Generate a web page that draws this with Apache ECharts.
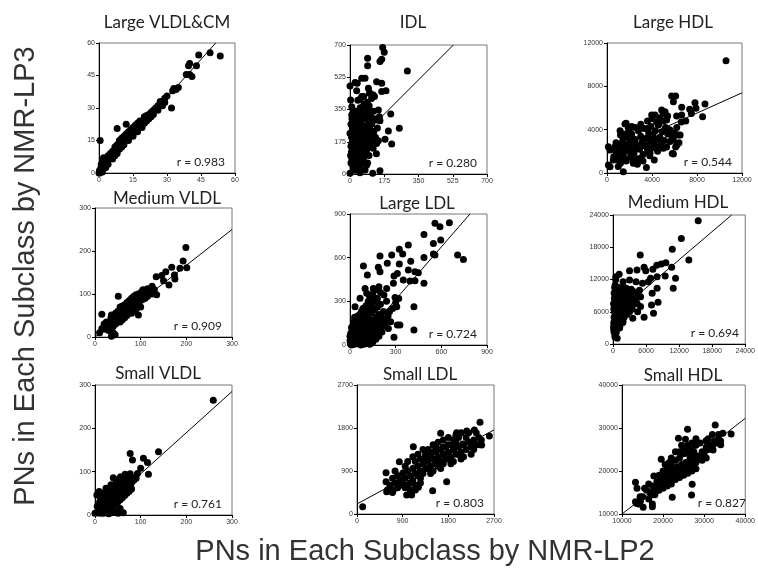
<!DOCTYPE html>
<html>
<head>
<meta charset="utf-8">
<script src="https://cdn.jsdelivr.net/npm/echarts@6/dist/echarts.min.js"></script>
</head>
<body style="margin:0;background:#fff">
<div id="main" style="width:758px;height:568px;"></div>
<script type="text/javascript">
// panel titles and correlation labels
var titles = ['Large VLDL&CM', 'IDL', 'Large HDL', 'Medium VLDL', 'Large LDL', 'Medium HDL', 'Small VLDL', 'Small LDL', 'Small HDL'];
var rValues = ['0.983', '0.280', '0.544', '0.909', '0.724', '0.694', '0.761', '0.803', '0.827'];

// axis ranges (same on x and y for each panel)
var axMin = [0, 0, 0, 0, 0, 0, 0, 0, 10000];
var axMax = [60, 700, 12000, 300, 900, 24000, 300, 2700, 40000];
var axStep = [15, 175, 4000, 100, 300, 6000, 100, 900, 10000];

// regression line end points
var fitLines = [
    [[0, 0], [51.5, 60]],
    [[20, 160], [528, 700]],
    [[0, 1800], [12000, 7400]],
    [[0, 0], [300, 250]],
    [[40, 0], [788, 900]],
    [[0, 5200], [21530, 24000]],
    [[0, 0], [300, 285]],
    [[0, 210], [2700, 1760]],
    [[10000, 10000], [40000, 32250]]
];

var p1 = [[0.5,15],[8,20.5],[12,22.5],[32,30],[44,54.5],[49,55.5],[53.5,54],[40,50.5],[39.5,49.5],[43,49.5],[38.5,45.5],[40,45.5],[41,44.5],[35,39.5],[33,39],[34,38.5],[32.5,38],[30,35.5],[29,34.5],[28,33],[27,33],[29,32.5],[25,30],[24,29],[23,28],[22,27],[21,26.5],[20,26],[22,25],[19,24],[18,24],[17,23],[18,22],[16,22],[15,21],[16,20.5],[14,20],[13,19],[14,18],[12,18],[11,17],[12,16],[10,16],[11,15],[9,15],[10,14],[9,13],[8,13],[7,12],[8,11],[7,10],[6,10],[6,9],[5,9],[5,8],[4,8],[5,7],[4,7],[3,6],[4,6],[3,5],[2,6],[2,5],[3,4],[2,4],[1.5,3],[1,3],[2,2],[1,2],[0.5,1.5],[1,1],[0.5,0.5],[0.3,0],[0.2,1],[1.5,0.5],[0,0],[6,6.5],[7,8],[9,11],[10,12],[13,15],[15,17],[17,19],[19,21],[20,23],[23,26],[26,29],[26,31],[4,4],[3,2.5],[1,4],[2,7],[8,9],[11,13],[13,16],[15,18],[17,20],[21,24],[24,27],[28,31]];

var p2 = [[167,686],[175,660],[153,610],[162,622],[90,628],[90,588],[293,559],[60,519],[77,519],[0,478],[26,496],[37,492],[136,501],[162,492],[184,452],[162,447],[34,452],[94,465],[102,438],[60,420],[3,402],[51,405],[119,429],[9,365],[68,365],[145,347],[208,326],[9,320],[34,293],[77,302],[136,293],[153,289],[252,248],[196,233],[0,221],[26,230],[43,185],[9,166],[68,148],[85,130],[136,166],[213,163],[179,188],[9,112],[34,76],[60,67],[85,49],[0,4],[51,7],[116,4],[153,18],[17,31],[77,22],
    [5,60],[10,80],[15,45],[20,95],[25,120],[30,70],[35,150],[40,100],[45,180],[50,130],[55,200],[60,160],[65,240],[70,190],[75,260],[80,210],[85,300],[90,230],[95,280],[100,250],[105,320],[110,270],[115,200],[120,340],[125,300],[5,150],[8,200],[12,250],[18,280],[22,310],[28,340],[32,230],[38,270],[42,300],[48,330],[52,360],[58,290],[62,320],[68,350],[72,380],[78,330],[82,360],[88,390],[92,340],[98,370],[102,300],[108,210],[112,170],[118,140],[122,230],[5,270],[10,300],[15,330],[20,200],[25,170],[30,130],[35,60],[40,30],[45,80],[50,40],[55,100],[60,60],[65,120],[70,90],[75,140],[80,110],[85,170],[90,60],[95,200],[100,150],[3,100],[7,120],[13,180],[17,220],[23,240],[27,20],[33,190],[37,210],[43,250],[47,220],[53,270],[57,240],[63,190],[67,210],[73,230],[77,170],[83,250],[87,200],[93,160],[97,100],[140,250],[150,310],[130,200],[135,110],[145,180],[125,420],[110,410],[100,440],[70,420],[40,400]];

var p3 = [[10580,10370],[5750,7110],[6100,7110],[5900,6580],[7820,6490],[8710,6370],[7910,5970],[6640,6060],[7350,5880],[8500,5200],[4860,5820],[5160,5660],[3970,5350],[4270,5350],[5390,5260],[6190,5260],[6640,5350],[5300,4890],[4560,4430],[3670,4120],[2790,3970],[1900,4120],[1600,4520],[1160,3910],[5600,3970],[6340,3510],[5900,3050],[4860,3050],[3970,3350],[3230,3050],[2340,3050],[1450,2740],[710,2430],[120,2430],[270,2120],[1010,1820],[1600,1350],[560,1200],[120,740],[270,580],[1450,120],[2340,890],[2930,1350],[3820,1820],[5010,2280],[5900,1750],[6220,2580],[2040,1970],[2640,2280],[3530,2430],[4410,2430],[1160,1510],[2040,2430],
    [600,1500],[800,2000],[900,1200],[1000,2600],[1100,1700],[1200,900],[1300,2200],[1400,3000],[1500,1900],[1600,2500],[1700,1100],[1800,3300],[1900,2100],[2000,2800],[2100,1500],[2200,3600],[2300,2300],[2400,1800],[2500,3100],[2600,2600],[2700,1300],[2800,3900],[2900,2200],[3000,3400],[3100,2800],[3200,1700],[3300,4100],[3400,2500],[3500,3200],[3600,2000],[3700,3700],[3800,2900],[3900,4300],[4000,2300],[4100,3500],[4200,2700],[4300,3900],[4400,3100],[4500,2000],[4600,4500],[4700,3300],[4800,2600],[4900,3800],[5000,4800],[5100,3000],[5200,4200],[5300,2400],[5400,3600],[5500,4000],[5600,2900],[5800,3300],[6000,3700],[6200,4200],[6400,2800],[6600,4700],[5000,5500],[4700,5100],[4400,4700],[2500,4200],[2000,3800],[1200,3500],[800,2800],[1500,3600],[2300,1100],[3200,1100],[3800,1600],[4200,1200],[1000,600],[2700,800],[3500,500],[5800,1800],[6100,2400],[6500,3500],[7000,4800],[7500,5500],[3000,4500],[3600,4800],[2200,4300],[1700,4600],[4000,5000]];

var p4 = [[199,208],[193,177],[201,161],[186,160],[168,162],[155,152],[146,143],[134,140],[174,144],[175,135],[162,121],[150,131],[51,95],[15,53],[36,51],[135,98],[120,109],[113,105],[95,51],[36,2],[44,5],[40,10],
    [20,18],[25,22],[28,30],[30,25],[32,35],[35,28],[38,40],[40,32],[42,45],[45,38],[48,50],[50,42],[52,55],[55,46],[58,60],[60,50],[62,65],[65,55],[68,70],[70,58],[72,75],[75,62],[78,80],[80,66],[82,85],[85,70],[88,90],[90,75],[92,95],[95,80],[98,100],[100,85],[102,105],[105,88],[108,92],[110,100],[115,95],[120,105],[125,100],[130,110],[45,55],[55,70],[65,75],[75,85],[85,95],[95,100],[60,40],[70,50],[80,55],[90,65],[100,70],[50,35],[40,25],[30,15],[35,20],[45,30],[55,35],[65,45],[75,70],[85,60],[25,35],[35,45],[50,60],[60,72],[70,80],[80,90],[90,98],[105,110],[115,112],[125,118],[40,48],[20,30],[15,20],[10,10],[58,52],[68,62],[78,72],[88,82],[98,92],[110,90]];

var p5 = [[558,836],[591,813],[653,840],[548,698],[596,721],[486,760],[383,687],[324,657],[346,625],[274,618],[197,611],[186,534],[197,504],[88,543],[114,481],[245,561],[324,556],[311,492],[383,515],[427,504],[449,497],[399,575],[548,625],[486,602],[558,618],[707,618],[745,588],[486,424],[427,442],[394,440],[350,447],[289,474],[285,424],[241,389],[223,343],[153,389],[110,355],[99,389],[66,321],[33,263],[164,321],[296,327],[307,263],[420,263],[267,160],[311,137],[328,137],[420,103],[289,53],[131,172],[208,190],[186,126],[252,114],
    [5,5],[10,20],[15,40],[20,10],[25,60],[30,30],[35,80],[40,15],[45,50],[50,100],[55,25],[60,70],[65,120],[70,40],[75,90],[80,150],[85,60],[90,110],[95,20],[100,180],[105,80],[110,130],[115,50],[120,200],[125,100],[130,150],[135,30],[140,220],[145,120],[150,170],[155,70],[160,240],[165,140],[170,190],[175,90],[180,260],[185,160],[190,210],[195,110],[200,280],[210,180],[220,230],[230,130],[240,300],[250,200],[5,40],[10,70],[15,100],[20,130],[25,160],[30,190],[35,140],[40,110],[45,170],[50,200],[55,150],[60,180],[65,210],[70,160],[75,230],[80,200],[85,250],[90,170],[95,140],[100,220],[105,270],[110,240],[115,190],[120,300],[125,260],[130,330],[140,280],[150,350],[160,300],[170,380],[180,320],[190,400],[200,360],[5,80],[10,120],[0,30],[0,60],[5,15],[10,0],[20,35],[30,5],[40,45],[50,10],[60,30],[70,0],[80,20],[90,5],[100,30],[110,10],[120,40],[130,5],[140,60],[150,20],[160,90],[170,40],[180,110],[190,60],[210,90],[220,140],[240,170],[260,230],[280,250],[300,290],[320,320]];

var p6 = [[15460,22940],[12400,19650],[13760,15620],[10760,17610],[4940,16550],[9590,15130],[8760,14880],[7940,14630],[10640,14260],[5640,14260],[5940,13640],[7230,13890],[4350,13760],[3000,13640],[1120,12960],[530,12520],[9470,12650],[11350,12210],[10930,10350],[8000,12520],[6820,12210],[6410,11590],[5350,11280],[4180,11590],[3000,11900],[1820,11590],[2410,10350],[8000,10350],[7110,9420],[8170,7750],[6990,7250],[7350,5700],[5640,4960],[3590,4770],[4470,6010],[1820,4460],[760,3840],[350,1360],[760,1050],[180,2290],[1230,3220],
    [100,3000],[150,4000],[200,5000],[250,6000],[300,7000],[350,8000],[400,9000],[450,3500],[500,4500],[550,5500],[600,6500],[650,7500],[700,8500],[750,9500],[800,4000],[850,5000],[900,6000],[950,7000],[1000,8000],[1050,5200],[1100,6200],[1150,7200],[1200,8200],[1300,4500],[1400,5500],[1500,6500],[1600,7500],[1700,8500],[1800,5800],[1900,6800],[2000,7800],[2100,8800],[2200,6000],[2300,7000],[2400,8000],[2500,9000],[2600,6500],[2700,7500],[2800,8500],[2900,9500],[3000,7000],[3200,8000],[3400,9000],[3600,7500],[3800,8500],[4000,9500],[4200,8200],[4500,9000],[4800,10000],[5000,8800],[200,2500],[300,2000],[150,6500],[100,7500],[250,8500],[200,9500],[300,10500],[400,11000],[500,12000],[150,3500],[350,4500],[450,5500],[550,6800],[650,8000],[750,7000],[850,8800],[950,9800],[1100,10500],[1300,9500],[1500,9000],[1700,10000],[2000,10500],[2300,9800],[2600,9800],[3000,9000],[3300,10200],[3600,9800],[4000,8000],[4400,7500],[5000,7000],[2000,5000],[2500,5500],[3000,6000],[3500,6500],[1200,3000],[1800,4000],[600,2200],[900,3200]];

var p7 = [[259,265],[139,146],[77,142],[82,127],[106,131],[115,121],[100,108],[93,96],[117,94],[77,95],[66,94],[40,86],[4,46],[9,54],[24,62],[51,82],[7,8],[11,4],[51,4],[36,5],[18,4],[0,4],
    [10,12],[15,20],[18,10],[20,25],[22,15],[25,30],[28,20],[30,35],[32,25],[35,40],[38,30],[40,45],[42,35],[45,50],[48,40],[50,55],[52,45],[55,60],[58,50],[60,65],[62,55],[65,70],[68,60],[70,72],[72,62],[75,78],[78,68],[80,75],[85,80],[90,85],[25,45],[30,50],[35,55],[40,60],[45,65],[50,70],[55,75],[60,80],[65,85],[70,88],[15,35],[20,40],[25,15],[30,10],[35,20],[40,20],[45,25],[50,30],[55,35],[60,40],[65,45],[70,50],[75,55],[80,60],[5,20],[10,30],[12,40],[8,50],[18,50],[28,60],[38,68],[48,72],[58,65],[68,75],[42,50],[52,60],[62,70],[32,45],[22,30],[12,20],[5,5],[20,5],[30,3],[45,8],[55,15],[62,5],[25,55],[35,70],[46,80],[56,88],[66,92],[78,90]];

var p8 = [[112,153],[2424,1919],[2608,1633],[2313,1758],[2162,1737],[1964,1702],[1649,1688],[2457,1444],[2293,1514],[2083,1465],[1110,1409],[834,1095],[572,865],[572,677],[650,537],[585,467],[716,502],[979,398],[1077,398],[1491,488],[1767,677],[1209,558],[848,712],[913,865],[1307,1130],[1557,1305],[1452,1200],
    [650,600],[700,750],[750,650],[800,800],[850,700],[900,850],[950,750],[1000,900],[1050,800],[1100,950],[1150,850],[1200,1000],[1250,900],[1300,1050],[1350,950],[1400,1100],[1450,1000],[1500,1150],[1550,1050],[1600,1200],[1650,1100],[1700,1250],[1750,1150],[1800,1300],[1850,1200],[1900,1350],[1950,1250],[2000,1400],[2050,1300],[2100,1450],[2150,1350],[2200,1500],[2250,1400],[2300,1550],[2350,1450],[2400,1600],[750,900],[850,600],[950,1000],[1050,650],[1150,1100],[1250,750],[1350,1200],[1450,850],[1550,1300],[1650,950],[1750,1400],[1850,1050],[1950,1500],[2050,1150],[2150,1600],[2250,1250],[2350,1700],[1000,600],[1100,700],[1200,800],[1300,850],[1400,950],[1500,900],[1600,1000],[1700,1050],[1800,1150],[1900,1100],[2000,1250],[1000,1100],[1100,1200],[1200,1250],[1300,1350],[1400,1350],[1500,1450],[1600,1500],[1700,1550],[1800,1450],[1900,1550],[2000,1600],[1250,1150],[1350,1250],[1450,1300],[1550,1400],[1650,1350],[900,650],[950,550],[1050,500],[1150,600],[1250,650],[700,450],[800,550],[600,500],[1150,500],[1950,1650],[2050,1700],[2200,1700],[2300,1350],[2400,1450],[2450,1550],[2100,1200],[1500,1300],[1600,1150],[1700,1400],[1800,1600],[1900,1450]];

var p9 = [[32680,30690],[36560,28600],[34020,26120],[25960,29690],[25440,27360],[23730,27590],[25820,25270],[30440,27050],[34540,28760],[32160,24880],[19550,22710],[13280,17360],[13650,15970],[13280,12870],[14030,12330],[15150,11550],[17390,12330],[17390,11710],[22230,13880],[26930,14420],[27080,16900],[17760,18840],[14400,14030],
    [15000,14000],[16000,15500],[17000,15000],[17500,16500],[18000,16000],[18500,17500],[19000,17000],[19500,18500],[20000,17500],[20500,19000],[21000,18500],[21500,20000],[22000,19000],[22500,20500],[23000,19500],[23500,21000],[24000,20000],[24500,21500],[25000,20500],[25500,22000],[26000,21000],[26500,22500],[27000,21500],[27500,23000],[28000,22000],[28500,23500],[29000,23000],[29500,24500],[30000,24000],[30500,25500],[31000,25000],[31500,26000],[32000,25500],[32500,27000],[33000,26500],[33500,27500],[34000,27000],[16500,13500],[17000,14500],[18000,14500],[19000,15500],[20000,16000],[21000,16500],[22000,17000],[23000,18000],[24000,18500],[25000,19000],[26000,19500],[27000,20000],[28000,20500],[19000,19000],[20000,20000],[21000,20500],[22000,21500],[23000,22500],[24000,23000],[25000,24000],[26000,24500],[27000,25000],[28000,26000],[29000,26500],[21500,18000],[22500,18500],[23500,19000],[24500,19500],[25500,20000],[20500,17000],[19500,16500],[18500,15500],[17500,14500],[24000,24500],[25000,25500],[26000,26000],[27000,26500],[28000,27500],[22000,23000],[23000,24500],[24500,26000],[26500,23500],[27500,24500],[29500,22500],[30500,23000],[31000,27500],[32000,28500],[33500,28500],[15500,16000],[16500,17000],[14500,13000],[13500,12500],[20500,21500],[21500,22000]];

var points = [p1, p2, p3, p4, p5, p6, p7, p8, p9];

// plot boxes in pixels: left, top, width, height
var boxes = [
    [99, 43, 136, 130], [350, 45, 137, 129], [607, 43, 135, 130],
    [95, 208, 137, 129], [350, 214, 137, 131], [613, 215, 136, 129],
    [95, 385, 137, 130], [357, 385, 137, 129], [622, 385, 134, 129]
];
var titlePos = [[167, 23], [413, 23], [673, 23], [167, 199], [417, 204], [678, 203], [158, 374], [420, 375], [683, 376]];

var myChart = echarts.init(document.getElementById('main'));

var grids = [], xAxes = [], yAxes = [], series = [], graphics = [];

function axis(i, pos) {
    return {
        type: 'value', gridIndex: i, position: pos,
        min: axMin[i], max: axMax[i], interval: axStep[i],
        splitLine: { show: false },
        axisLine: { show: true, onZero: false, lineStyle: { color: '#000', width: 1 } },
        axisTick: { show: true, length: 3, lineStyle: { color: '#000' } },
        axisLabel: {
            fontSize: 7, color: '#333', margin: 4, fontFamily: 'Liberation Sans',
            showMinLabel: true, showMaxLabel: true,
            formatter: function (v) { return String(v); }
        }
    };
}

for (var i = 0; i < 9; i++) {
    var b = boxes[i];
    grids.push({ left: b[0], top: b[1], width: b[2], height: b[3], show: true, borderColor: '#777', borderWidth: 1, backgroundColor: '#fff' });
    xAxes.push(axis(i, 'bottom'));
    yAxes.push(axis(i, 'left'));
    series.push({
        type: 'scatter', xAxisIndex: i, yAxisIndex: i,
        symbolSize: 7, itemStyle: { color: '#000', opacity: 1 },
        data: points[i], silent: true
    });
    series.push({
        type: 'line', xAxisIndex: i, yAxisIndex: i,
        symbol: 'none', lineStyle: { color: '#000', width: 1 },
        data: fitLines[i], silent: true, z: 3
    });
    graphics.push({
        type: 'text', x: titlePos[i][0], y: titlePos[i][1],
        style: { text: titles[i], fontSize: 17, fontFamily: 'Lato', fill: '#222', textAlign: 'center', textVerticalAlign: 'middle' }
    });
    graphics.push({
        type: 'text', x: b[0] + b[2] - 10, y: b[1] + b[3] - 11,
        style: { text: 'r = ' + rValues[i], fontSize: 12, fontFamily: 'Lato', fill: '#222', textAlign: 'right', textVerticalAlign: 'middle' }, z: 100
    });
}

graphics.push({
    type: 'text', x: 425, y: 552,
    style: { text: 'PNs in Each Subclass by NMR-LP2', fontSize: 29, fontFamily: 'Liberation Sans', fill: '#333', textAlign: 'center', textVerticalAlign: 'middle' }
});
graphics.push({
    type: 'text', x: 26, y: 276, rotation: Math.PI / 2,
    style: { text: 'PNs in Each Subclass by NMR-LP3', fontSize: 29, fontFamily: 'Liberation Sans', fill: '#333', textAlign: 'center', textVerticalAlign: 'middle' }
});

myChart.setOption({
    backgroundColor: '#fff',
    animation: false,
    grid: grids,
    xAxis: xAxes,
    yAxis: yAxes,
    series: series,
    graphic: graphics
});
</script>
</body>
</html>
